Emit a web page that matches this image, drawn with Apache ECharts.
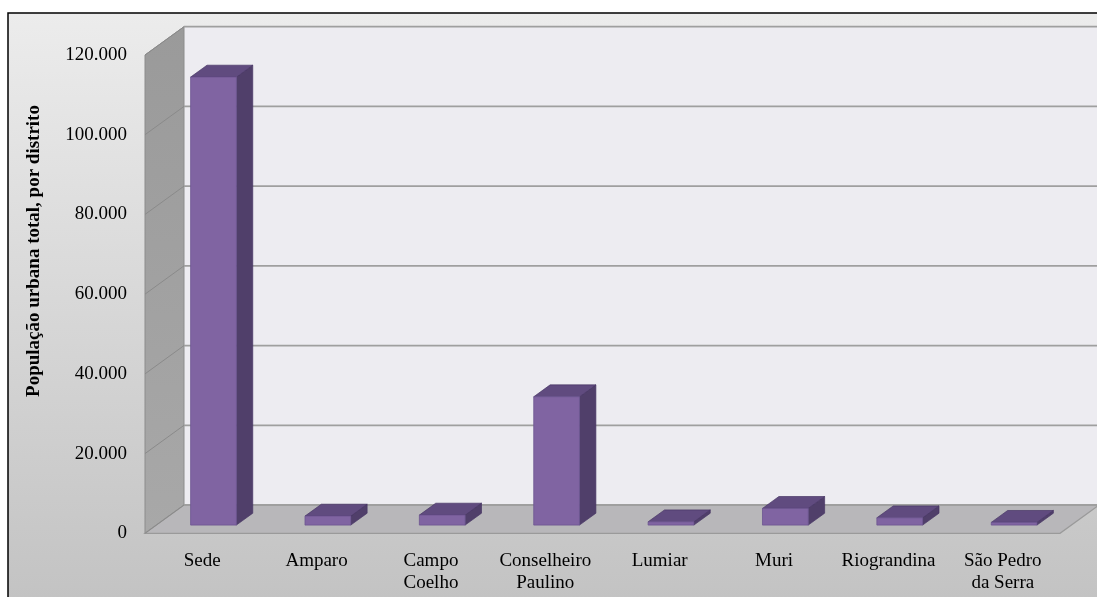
<!DOCTYPE html>
<html><head><meta charset="utf-8">
<script src="https://cdn.jsdelivr.net/npm/echarts@6/dist/echarts.min.js"></script>
<style>html,body{margin:0;padding:0;background:#fff}#c{width:1097px;height:597px}</style>
</head><body><div id="c"></div>
<script>
// ---- data ----
const categories = ['Sede', 'Amparo', 'Campo\nCoelho', 'Conselheiro\nPaulino', 'Lumiar', 'Muri', 'Riograndina', 'São Pedro\nda Serra'];
const populacao = [112400, 2260, 2510, 32200, 830, 4190, 1830, 680];
const yTicks = [0, 20000, 40000, 60000, 80000, 100000, 120000];
const yTitle = 'População urbana total, por distrito';

// ---- 3D look (styles / geometry) ----
const DX = 39, DY = -28.3;      // full depth offset of the box
const F1 = 0.29, F2 = 0.71;     // bar front/back depth fractions
const FONT = '"Liberation Serif", "Times New Roman", serif';

const chart = echarts.init(document.getElementById('c'), null, {renderer: 'canvas'});

function fmt(v) {
  return v === 0 ? '0' : String(v / 1000) + '.000';
}

function renderWalls(params, api) {
  const yMin = yTicks[0], yMax = yTicks[yTicks.length - 1];
  const cs = params.coordSys;
  const x0 = cs.x, x1 = cs.x + cs.width;
  const yB = api.coord([0, yMin])[1], yT = api.coord([0, yMax])[1];
  const children = [];
  children.push({type: 'polygon', shape: {points: [[x0 + DX, yT + DY], [x1 + DX, yT + DY], [x1 + DX, yB + DY], [x0 + DX, yB + DY]]},
    style: {fill: '#edecf1', stroke: null}});
  children.push({type: 'polygon', shape: {points: [[x0, yT], [x0 + DX, yT + DY], [x0 + DX, yB + DY], [x0, yB]]},
    style: {fill: new echarts.graphic.LinearGradient(0, 0, 0, 1, [{offset: 0, color: '#9a9a9a'}, {offset: 1, color: '#a8a8a8'}]),
      stroke: '#8c8c8c', lineWidth: 1}});
  children.push({type: 'polygon', shape: {points: [[x0, yB], [x0 + DX, yB + DY], [x1 + DX, yB + DY], [x1, yB]]},
    style: {fill: '#b8b7ba', stroke: '#9a9a9a', lineWidth: 1.2}});
  yTicks.forEach(function (t) {
    const y = api.coord([0, t])[1];
    children.push({type: 'line', shape: {x1: x0 + DX, y1: y + DY, x2: x1 + DX, y2: y + DY},
      style: {stroke: '#9f9f9f', lineWidth: 1.8}});
    children.push({type: 'line', shape: {x1: x0, y1: y, x2: x0 + DX, y2: y + DY},
      style: {stroke: '#8a8a8a', lineWidth: 1}});
  });
  return {type: 'group', children: children};
}

function renderBar(params, api) {
  const i = api.value(0), v = api.value(1);
  const base = api.coord([i, 0]);
  const top = api.coord([i, v]);
  const bw = api.size([1, 0])[0] * 0.4;
  const xl = base[0] - bw / 2, xr = base[0] + bw / 2;
  const p = (x, y, f) => [x + f * DX, y + f * DY];
  const edge = 'rgba(70,52,100,0.85)';
  return {type: 'group', children: [
    {type: 'polygon', shape: {points: [p(xr, top[1], F1), p(xr, top[1], F2), p(xr, base[1], F2), p(xr, base[1], F1)]},
      style: {fill: '#503f6a', stroke: edge, lineWidth: 0.8}},
    {type: 'polygon', shape: {points: [p(xl, top[1], F1), p(xr, top[1], F1), p(xr, top[1], F2), p(xl, top[1], F2)]},
      style: {fill: '#604b7f', stroke: edge, lineWidth: 0.8}},
    {type: 'polygon', shape: {points: [p(xl, top[1], F1), p(xr, top[1], F1), p(xr, base[1], F1), p(xl, base[1], F1)]},
      style: {fill: '#8064a2', stroke: '#6c5590', lineWidth: 0.8}}
  ]};
}

chart.setOption({
  backgroundColor: '#ffffff',
  animation: false,
  graphic: [
    {type: 'rect', z: -10, shape: {x: 8, y: 13, width: 1100, height: 600},
      style: {fill: new echarts.graphic.LinearGradient(0, 0, 0, 1, [{offset: 0, color: '#ececec'}, {offset: 1, color: '#c2c2c2'}]),
        stroke: '#000', lineWidth: 1.5}},
    {type: 'text', x: 34, y: 251, rotation: Math.PI / 2,
      style: {text: yTitle, fontFamily: FONT, fontWeight: 'bold', fontSize: 19, fill: '#000',
        textAlign: 'center', textVerticalAlign: 'middle'}}
  ],
  grid: {left: 145, right: 37, top: 55, bottom: 63.7, containLabel: false, outerBoundsMode: 'none'},
  xAxis: {
    type: 'category', data: categories,
    axisLine: {show: false}, axisTick: {show: false}, splitLine: {show: false},
    axisLabel: {interval: 0, margin: 17, color: '#000', fontFamily: FONT, fontSize: 19, lineHeight: 22, align: 'center'}
  },
  yAxis: {
    type: 'value', min: yTicks[0], max: yTicks[yTicks.length - 1], interval: yTicks[1] - yTicks[0],
    axisLine: {show: false}, axisTick: {show: false}, splitLine: {show: false},
    axisLabel: {margin: 18, color: '#000', fontFamily: FONT, fontSize: 19, padding: [4, 0, 0, 0], formatter: fmt}
  },
  series: [
    {type: 'custom', name: 'walls', renderItem: renderWalls, data: [[0, 0]], clip: false, silent: true, z: 1},
    {type: 'custom', name: 'População', renderItem: renderBar, clip: false, z: 3,
      encode: {x: 0, y: 1},
      data: categories.map(function (c, i) { return [i, populacao[i]]; })}
  ]
});
</script>
</body></html>
